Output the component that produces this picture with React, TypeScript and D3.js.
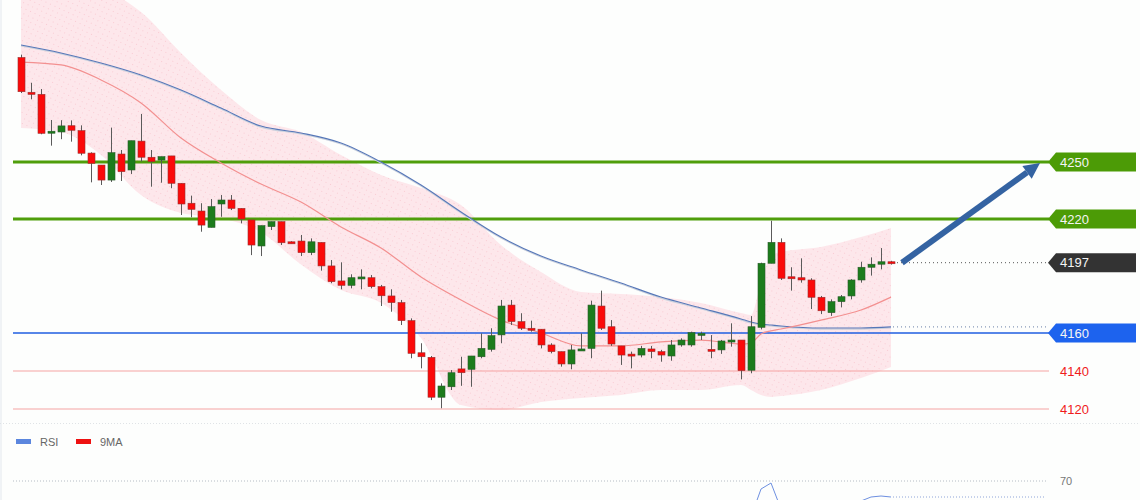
import { useRef, useEffect } from 'react';
import * as d3 from 'd3';

// candle OHLC
const opens = [4305, 4286.7, 4285.6, 4265.3, 4265.8, 4269.1, 4266.5, 4254.7, 4248.4, 4240.5, 4254.2, 4245.8, 4261, 4252.5, 4251, 4253.2, 4238.8, 4228.3, 4224.2, 4215.6, 4227.9, 4230, 4225.6, 4219.5, 4205.8, 4216, 4218.6, 4208, 4208.4, 4202.3, 4207.7, 4195.3, 4187.4, 4185.1, 4189.2, 4189.1, 4184.4, 4179.5, 4176, 4166.5, 4149.6, 4147.2, 4126.2, 4131.7, 4141.1, 4140.9, 4147.5, 4151.4, 4159, 4174.7, 4166, 4162.5, 4162, 4153.7, 4150.2, 4143.7, 4151, 4151.9, 4174.2, 4163.3, 4153.2, 4148.9, 4148.4, 4151.6, 4150.2, 4147.9, 4153.7, 4153.7, 4159.3, 4151.4, 4151.1, 4155.4, 4156.3, 4140.4, 4163, 4196.7, 4207.7, 4189.6, 4189.1, 4187.9, 4178.8, 4170.7, 4176.5, 4179.5, 4187.9, 4194.6, 4196.2, 4197.5];
const highs = [4306.5, 4291.7, 4288.4, 4272.1, 4272, 4271.9, 4269.3, 4255.1, 4248.4, 4268.1, 4256.3, 4261.2, 4275.3, 4256.3, 4252.8, 4253.2, 4238.8, 4232.3, 4228.3, 4230.5, 4232.6, 4232.6, 4225.6, 4219.5, 4216.5, 4218.6, 4218.6, 4208.3, 4211.6, 4209.8, 4207.7, 4198.4, 4197.2, 4190.9, 4193.5, 4190.5, 4185.3, 4183, 4177.4, 4167.7, 4154.6, 4147.9, 4133.5, 4140.5, 4147.5, 4147.9, 4159.8, 4162.5, 4177.4, 4177.4, 4170.4, 4166.5, 4162, 4154.6, 4150.2, 4153.7, 4159.8, 4177, 4182.3, 4166.8, 4153.2, 4150.2, 4153.2, 4153.2, 4151.1, 4156.3, 4157.2, 4160.7, 4160.7, 4158.9, 4156.3, 4165.1, 4156.3, 4168.9, 4197, 4219.1, 4209.8, 4194.6, 4199.3, 4188.8, 4179.5, 4177.7, 4180, 4188.3, 4197.5, 4199.8, 4204.7, 4198];
const lows = [4286.3, 4283, 4264.6, 4258.6, 4262, 4260.7, 4253.5, 4239.3, 4237.9, 4239.5, 4240, 4243.7, 4250.2, 4237, 4239.1, 4236.2, 4222.1, 4220.9, 4213.3, 4215.6, 4221.2, 4224.7, 4217.7, 4201, 4200.5, 4214.2, 4206.3, 4207.2, 4200.5, 4201, 4192.8, 4186.2, 4183, 4183.5, 4183, 4183.5, 4174.2, 4171.2, 4164.2, 4146.7, 4141.4, 4124.7, 4120.4, 4130, 4132.2, 4131.7, 4146.7, 4150.2, 4154.6, 4164.2, 4161.6, 4160.7, 4151.9, 4149.3, 4142.3, 4140.9, 4151, 4146.7, 4161.6, 4153.2, 4143.2, 4141.4, 4147.2, 4146.7, 4144.9, 4145.4, 4152.8, 4152.8, 4156.3, 4146.7, 4149, 4152.8, 4135.6, 4138.8, 4161.9, 4196.7, 4187.9, 4182.3, 4186.5, 4172.6, 4170, 4169, 4173.5, 4177.7, 4186.5, 4190.2, 4193.5, 4196];
const closes = [4287, 4285.6, 4265.1, 4266.2, 4269, 4266.7, 4254.6, 4249.3, 4240.5, 4254.9, 4244.9, 4261.2, 4252.5, 4250.2, 4252.8, 4238.8, 4227.9, 4225.1, 4216.8, 4226.5, 4230, 4225.6, 4220, 4206.3, 4216.5, 4218.6, 4207.5, 4207.5, 4202.3, 4208, 4195.3, 4187, 4185.1, 4189.1, 4189.5, 4184.4, 4179.6, 4176, 4166.5, 4149.3, 4147.5, 4126.2, 4132.1, 4139.1, 4139.1, 4147.9, 4151.9, 4158.6, 4174.2, 4166, 4162.5, 4161.6, 4153.7, 4150.2, 4143.7, 4151.1, 4151.6, 4174.7, 4162.5, 4154.2, 4148.4, 4148.4, 4151.9, 4150.2, 4148.4, 4153.7, 4156.3, 4160.2, 4159.8, 4150.7, 4155.8, 4156.3, 4140.2, 4163.3, 4196.7, 4207.7, 4188.8, 4188.8, 4187.9, 4178.8, 4171.7, 4176.5, 4179.1, 4187.9, 4194.6, 4196.2, 4197.5, 4197];

// overlay lines sampled at these candle indices
const lineIdx = [0, 4, 8, 12, 16, 20, 24, 28, 32, 36, 40, 44, 48, 52, 56, 60, 64, 68, 72, 73, 74, 75, 76, 80, 84, 87];
const bandUpper = [4351, 4345.8, 4341.6, 4328.9, 4307.4, 4287.9, 4272.1, 4265.8, 4253.7, 4243.2, 4236.3, 4227.4, 4206.3, 4192.1, 4181.6, 4180.5, 4179, 4175.8, 4170.5, 4169.5, 4186.3, 4200.5, 4202.6, 4205.3, 4210.5, 4215.3];
const bandLower = [4267.9, 4265.8, 4253.7, 4232.6, 4223.2, 4220.5, 4213, 4196, 4182.6, 4175.8, 4157.4, 4122.1, 4119.5, 4123.7, 4125.8, 4127.4, 4130, 4130, 4132.6, 4130, 4127.4, 4126.3, 4126.8, 4130, 4136.3, 4142.1];
const fastMA = [4302.6, 4301.1, 4293.2, 4281.1, 4262.6, 4249.5, 4238.4, 4228.9, 4215.8, 4204.7, 4189.5, 4177.4, 4166.8, 4160, 4153.2, 4153.2, 4155.3, 4156.3, 4154.2, 4154.7, 4159.5, 4161.1, 4162.1, 4166.8, 4172.1, 4178.9];
const slowMA = [4311.6, 4307.4, 4302.1, 4295.8, 4287.9, 4278.4, 4268.9, 4265.3, 4260, 4250, 4237.9, 4223.7, 4210.5, 4200.5, 4193.2, 4186.3, 4178.9, 4173.2, 4167.4, 4165.8, 4164.7, 4164.2, 4163.7, 4162.6, 4162.6, 4163.2];

// RSI pane (mostly below the visible window)
const rsi = [35, 33, 28, 30, 32, 31, 27, 25, 24, 35, 33, 40, 37, 36, 37, 30, 26, 25, 24, 32, 35, 33, 30, 27, 33, 35, 30, 30, 28, 31, 27, 25, 25, 27, 28, 26, 24, 23, 21, 17, 17, 13, 20, 28, 28, 34, 38, 42, 52, 48, 45, 45, 40, 38, 35, 40, 41, 52, 46, 42, 38, 38, 40, 40, 39, 42, 44, 47, 47, 42, 45, 46, 36, 52, 66, 69, 56, 55, 54, 50, 47, 50, 52, 56, 60, 62, 62.5, 62];

const levels = [
    { value: 4250, label: '4250', kind: 'green' },
    { value: 4220, label: '4220', kind: 'green' },
    { value: 4197, label: '4197', kind: 'last' },
    { value: 4160, label: '4160', kind: 'blue' },
    { value: 4140, label: '4140', kind: 'red' },
    { value: 4120, label: '4120', kind: 'red' },
];
const target = { from: 4197, to: 4250 };

const width = 1140;
const height = 500;
const FONT = '"Liberation Sans", Arial, sans-serif';

export default function App() {
    const svgRef = useRef<SVGSVGElement | null>(null);

    useEffect(() => {
        if (!svgRef.current) return;
        const root = d3.select(svgRef.current);
        root.selectAll('*').remove();
        root.attr('width', width).attr('height', height);

        const x = d3.scaleLinear().domain([0, closes.length - 1]).range([21, 891]);
        const y = d3.scaleLinear().domain([4120, 4250]).range([409, 162]);
        const yRsi = d3.scaleLinear().domain([30, 70]).range([561, 481]);

        const defs = root.append('defs');
        const pat = defs.append('pattern')
            .attr('id', 'dots')
            .attr('width', 5)
            .attr('height', 5)
            .attr('patternUnits', 'userSpaceOnUse')
            .attr('patternTransform', 'rotate(25)');
        pat.append('rect').attr('width', 5).attr('height', 5).attr('fill', '#fde7eb');
        pat.append('circle').attr('cx', 2.5).attr('cy', 2.5).attr('r', 0.5).attr('fill', '#f8c4cd');

        defs.append('clipPath').attr('id', 'pane')
            .append('rect').attr('x', 0).attr('y', 0).attr('width', width).attr('height', 423);

        root.append('rect').attr('width', width).attr('height', height).attr('fill', '#fdfefd');
        root.append('line').attr('x1', 1).attr('x2', 1).attr('y1', 0).attr('y2', height)
            .attr('stroke', '#e3e8ee');

        const pane = root.append('g').attr('clip-path', 'url(#pane)');

        // envelope band
        const band = d3.area<number>()
            .x(i => x(lineIdx[i]))
            .y0(i => y(bandLower[i]))
            .y1(i => y(bandUpper[i]))
            .curve(d3.curveMonotoneX);
        pane.append('path')
            .datum(d3.range(lineIdx.length))
            .attr('d', band)
            .attr('fill', 'url(#dots)');

        // horizontal levels
        levels.forEach(l => {
            const ly = y(l.value);
            if (l.kind === 'last') {
                pane.append('line').attr('x1', 893).attr('x2', 1048).attr('y1', ly).attr('y2', ly)
                    .attr('stroke', '#555').attr('stroke-dasharray', '1,3');
                return;
            }
            const col = l.kind === 'green' ? '#4f9e0b' : l.kind === 'blue' ? '#1f5ee0' : '#f5a3a3';
            const w = l.kind === 'green' ? 3 : l.kind === 'blue' ? 1.5 : 1.2;
            pane.append('line').attr('x1', 13).attr('x2', 1049).attr('y1', ly).attr('y2', ly)
                .attr('stroke', col).attr('stroke-width', w);
        });

        // slow MA last value marker
        const slowLast = slowMA[slowMA.length - 1];
        pane.append('line').attr('x1', 893).attr('x2', 1048)
            .attr('y1', y(slowLast)).attr('y2', y(slowLast))
            .attr('stroke', '#6a7fa8').attr('stroke-dasharray', '1,3');

        const maLine = (vals: number[]) => d3.line<number>()
            .x(i => x(lineIdx[i]))
            .y(i => y(vals[i]))
            .curve(d3.curveMonotoneX)(d3.range(lineIdx.length));

        pane.append('path').attr('d', maLine(slowMA)).attr('fill', 'none')
            .attr('stroke', '#c9d0dc').attr('stroke-width', 1.2).attr('transform', 'translate(0,1)');
        pane.append('path').attr('d', maLine(slowMA)).attr('fill', 'none')
            .attr('stroke', '#5677b8').attr('stroke-width', 1.1);
        pane.append('path').attr('d', maLine(fastMA)).attr('fill', 'none')
            .attr('stroke', '#f39090').attr('stroke-width', 1.2);

        // candles
        const bw = 7;
        const candles = pane.append('g');
        closes.forEach((c, i) => {
            const o = opens[i];
            const up = c >= o;
            const cx = Math.round(x(i)) + 0.5;
            candles.append('line')
                .attr('x1', cx).attr('x2', cx)
                .attr('y1', y(highs[i])).attr('y2', y(lows[i]))
                .attr('stroke', '#5a5a5a').attr('stroke-width', 1);
            const top = y(Math.max(o, c));
            const h = Math.max(2, y(Math.min(o, c)) - top);
            candles.append('rect')
                .attr('x', cx - bw / 2).attr('y', top)
                .attr('width', bw).attr('height', h)
                .attr('fill', up ? '#1c7c1c' : '#fb0a0a')
                .attr('stroke', up ? '#2b5a2b' : '#9a3030')
                .attr('stroke-width', 0.6);
        });

        // target arrow
        const ax1 = 902, ay1 = y(target.from);
        const ax2 = 1040, ay2 = y(target.to) + 1;
        const ang = Math.atan2(ay2 - ay1, ax2 - ax1);
        const headL = 16, headW = 8;
        const bx = ax2 - headL * Math.cos(ang), by = ay2 - headL * Math.sin(ang);
        root.append('line').attr('x1', ax1).attr('y1', ay1).attr('x2', bx).attr('y2', by)
            .attr('stroke', '#3463a2').attr('stroke-width', 6).attr('stroke-linecap', 'butt');
        root.append('polygon')
            .attr('points', [
                [ax2, ay2],
                [bx + headW * Math.sin(ang), by - headW * Math.cos(ang)],
                [bx - headW * Math.sin(ang), by + headW * Math.cos(ang)],
            ].map(p => p.join(',')).join(' '))
            .attr('fill', '#3463a2');

        // price labels
        levels.forEach(l => {
            const ly = y(l.value);
            if (l.kind === 'red') {
                root.append('text').attr('x', 1060).attr('y', ly).attr('dy', '0.36em')
                    .attr('font-family', FONT).attr('font-size', 13).attr('fill', '#f01c1c')
                    .text(l.label);
                return;
            }
            const bg = l.kind === 'green' ? '#4c9b06' : l.kind === 'blue' ? '#1d63ee' : '#333333';
            root.append('polygon')
                .attr('points', `1048,${ly} 1056,${ly - 9.5} 1136,${ly - 9.5} 1136,${ly + 9.5} 1056,${ly + 9.5}`)
                .attr('fill', bg);
            root.append('text').attr('x', 1060).attr('y', ly).attr('dy', '0.36em')
                .attr('font-family', FONT).attr('font-size', 13).attr('fill', '#f4f4f4')
                .text(l.label);
        });

        // separator between panes
        root.append('line').attr('x1', 0).attr('x2', width).attr('y1', 423.5).attr('y2', 423.5)
            .attr('stroke', '#dfe3e6').attr('stroke-dasharray', '1,2');

        // legend
        const legend = root.append('g').attr('font-family', FONT).attr('font-size', 11).attr('fill', '#666');
        legend.append('rect').attr('x', 16).attr('y', 439).attr('width', 15).attr('height', 5).attr('fill', '#5b86de');
        legend.append('text').attr('x', 40).attr('y', 442).attr('dy', '0.36em').text('RSI');
        legend.append('rect').attr('x', 76).attr('y', 439).attr('width', 15).attr('height', 5).attr('fill', '#ee1111');
        legend.append('text').attr('x', 100).attr('y', 442).attr('dy', '0.36em').text('9MA');

        // RSI 70 level
        root.append('line').attr('x1', 13).attr('x2', 1046).attr('y1', yRsi(70)).attr('y2', yRsi(70))
            .attr('stroke', '#b5bcc4').attr('stroke-dasharray', '1,2');
        root.append('text').attr('x', 1060).attr('y', yRsi(70)).attr('dy', '0.36em')
            .attr('font-family', FONT).attr('font-size', 11).attr('fill', '#777').text('70');

        const rsiLast = rsi[rsi.length - 1];
        root.append('line').attr('x1', 893).attr('x2', 1046).attr('y1', yRsi(rsiLast)).attr('y2', yRsi(rsiLast))
            .attr('stroke', '#8ea4d8').attr('stroke-dasharray', '1,2');
        root.append('path')
            .datum(rsi)
            .attr('d', d3.line<number>().x((_, i) => x(i)).y(d => yRsi(d)))
            .attr('fill', 'none').attr('stroke', '#6d8fe0').attr('stroke-width', 1);
    }, []);

    return (
        <svg ref={svgRef} style={{ position: 'absolute', left: 0, top: 0, display: 'block' }} />
    );
}
